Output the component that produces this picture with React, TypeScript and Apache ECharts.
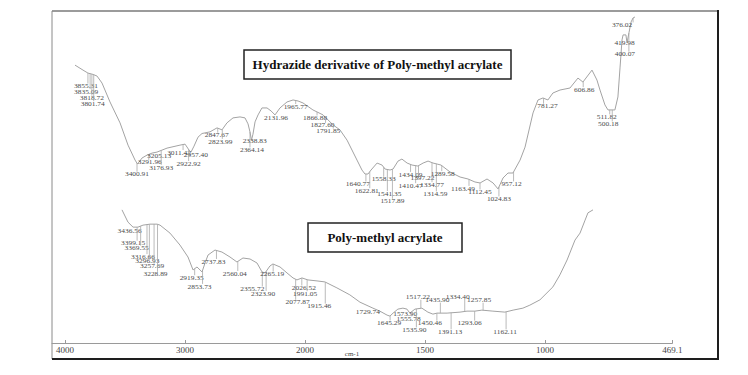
import React, { useEffect, useRef } from "react";
import * as echarts from "echarts";

// ---- Hydrazide derivative of Poly-methyl acrylate (upper trace) ----
const hydrazideWn = [
  3975, 3901, 3855, 3808, 3771, 3725, 3651, 3558, 3484, 3419, 3396,
  3355, 3308, 3262, 3216, 3123, 3003, 2956, 2919, 2901, 2873, 2836, 2799,
  2725, 2660, 2614, 2568, 2512, 2447, 2401, 2373, 2355, 2341, 2327, 2308,
  2280, 2244, 2197, 2160, 2123, 2077, 2012, 1978, 1955, 1932, 1886, 1839,
  1793, 1761, 1728, 1682, 1659, 1645, 1631, 1617, 1589, 1566, 1552, 1529,
  1515, 1492, 1474, 1450, 1427, 1400, 1376, 1353, 1330, 1311, 1293, 1251,
  1205, 1168, 1136, 1112, 1080, 1052, 1029, 1006, 983, 960, 927, 904, 867,
  844, 821, 798, 775, 742, 696, 659, 636, 594, 571, 557, 534, 520, 488,
  474, 464, 455, 450, 437, 432, 423, 413, 404, 395,
];
const hydrazideT = [
  83.7, 82.2, 81.3, 80.9, 80.4, 78.3, 72.6, 66.3, 59.6, 55.1, 53.9,
  55.7, 56.6, 57.2, 57.5, 58.7, 59.6, 59.9, 58.1, 57.5, 59.3, 62.0, 63.1,
  63.6, 64.8, 64.2, 66.3, 67.8, 68.1, 67.8, 66.0, 63.6, 61.1, 62.9, 66.6,
  68.7, 70.8, 70.8, 69.9, 68.7, 70.8, 72.6, 73.2, 72.9, 72.3, 70.2, 68.7,
  65.7, 64.2, 61.1, 55.1, 52.1, 50.9, 50.9, 52.1, 54.2, 53.6, 52.4, 52.1,
  52.4, 54.8, 55.4, 54.2, 53.6, 53.3, 54.2, 54.8, 54.2, 53.9, 53.6, 51.5,
  50.0, 49.4, 48.5, 48.2, 49.4, 48.2, 46.4, 49.7, 51.2, 51.2, 55.1, 59.0, 69.3,
  73.2, 73.8, 73.2, 75.3, 76.2, 76.8, 79.8, 78.6, 82.2, 79.2, 76.2, 71.7, 70.2, 70.2,
  74.1, 83.1, 91.3, 92.8, 92.8, 90.4, 93.4, 96.7, 97.9, 98.2,
];
const hydrazidePeaks = [
  3855.31, 3835.09, 3818.72, 3801.74, 3400.91, 3291.96, 3205.13, 3176.93,
  3011.42, 2957.4, 2922.92, 2847.67, 2823.99, 2364.14, 2338.83, 2131.96,
  1965.77, 1866.88, 1827.6, 1791.85, 1640.77, 1622.81, 1558.33, 1541.35,
  1517.89, 1434.09, 1410.47, 1397.22, 1334.77, 1314.59, 1289.58, 1163.49,
  1112.45, 1024.83, 957.12, 781.27, 606.86, 511.82, 500.18, 419.98, 400.07,
  376.02,
];
// layout of the peak annotations (pixels)
const hydrazideLineDx = [
  0, 0, 0, 0, 0, 0, 0, 0, 4, 7, 0, 21, 23, 1, 0, 2, 0, 0, 0, 0, 0, 0, 0, 0,
  0, 0, 0, 0, 0, 0, 0, 0, 0, 0, 0, -8, -6, 0, 0, -3, -5, -6,
];
const hydrazideLabelDx = [
  -2, -4, 0, -1, 0, 1, 1, 0, -4, 4, 0, -1, -2, 2, 3, 0, 0, -2, -3, -5, -8, -3,
  0, 2, 0, 0, -5, 4, 0, -1, 1, -6, 0, 0, -2, 4, 1, -3, -4, -2, -4, -11,
];
const hydrazideLabelDy = [
  13, 18, 24, 29, 11, 8, 4, 17, 8, 5, 14, 7, 12, 18, 2, 4, 6, 6, 8, 6, 10, 19,
  12, 24, 32, 10, 20, 12, 22, 30, 8, 9, 9, 12, 12, 8, 8, 7, 14, 3, 21, 7,
];

// ---- Poly-methyl acrylate (lower trace) ----
const pmaWn = [
  3525, 3475, 3433, 3392, 3350, 3292, 3233, 3208, 3125, 3042, 2975, 2933,
  2900, 2858, 2833, 2808, 2750, 2692, 2625, 2567, 2517, 2458, 2400, 2358,
  2333, 2292, 2267, 2208, 2150, 2100, 2067, 2025, 1988, 1950, 1917, 1867,
  1813, 1771, 1717, 1688, 1658, 1646, 1633, 1613, 1592, 1575, 1563, 1542,
  1513, 1488, 1467, 1450, 1408, 1354, 1325, 1292, 1263, 1217, 1167, 1133,
  1092, 1063, 1021, 967, 938, 908, 875, 854, 833, 821, 800,
];
const pmaT = [
  40.1, 36.4, 34.9, 34.9, 35.5, 35.8, 35.8, 35.5, 33.1, 29.5, 25.9, 22.0,
  22.9, 21.4, 24.1, 26.5, 28.0, 27.4, 25.9, 24.4, 25.6, 25.3, 24.1, 21.4,
  21.1, 23.2, 23.8, 22.9, 21.1, 19.6, 19.0, 19.6, 19.0, 18.7, 18.4, 16.6,
  14.5, 12.3, 10.5, 9.6, 8.4, 8.1, 9.0, 10.2, 10.5, 10.2, 9.0, 10.2,
  10.5, 9.3, 8.7, 9.0, 9.0, 9.3, 9.6, 9.6, 9.9, 9.6, 9.3, 9.9,
  10.5, 11.4, 13.0, 16.9, 20.5, 25.0, 31.0, 33.1, 37.0, 39.2, 40.1,
];
const pmaPeaks = [
  3436.56, 3399.15, 3369.55, 3316.66, 3296.93, 3257.69, 3228.89, 2919.35,
  2853.73, 2737.83, 2560.04, 2355.72, 2323.9, 2265.19, 2077.87, 2026.52,
  1991.05, 1915.46, 1729.74, 1645.29, 1573.9, 1555.78, 1535.9, 1517.22,
  1450.46, 1435.9, 1391.13, 1334.4, 1293.06, 1257.85, 1162.11,
];
const pmaLineDx = pmaPeaks.map(() => 0);
const pmaLabelDx = [
  -3, -4, -4, -4, -2, -2, -2, -3, -3, -3, -3, -10, -3, -1, 2, 2, -2, -6, -2,
  -1, -2, -3, -2, -3, -7, -3, -1, -7, -5, -4, -1,
];
const pmaLabelDy = [
  4, 16, 22, 32, 37, 42, 50, 9, 16, 11, 12, 17, 22, 10, 23, 10, 14, 24, 5, 7,
  4, 7, 21, -11, 10, -13, 19, -15, 12, -10, 20,
];

// ---- x axis ----
const xTickWn = [4000, 3000, 2000, 1500, 1000, 469.1];
const xTickLabels = ["4000", "3000", "2000", "1500", "1000", "469.1"];

// the instrument's axis changes scale at 2000 cm-1 (double density below)
const axisPos = (wn: number) => (wn >= 2000 ? 4000 - wn : 2000 + (2000 - wn) * 2);

const SERIF = '"Liberation Serif", "Times New Roman", serif';

function makeInterp(wn: number[], t: number[]) {
  const pts = wn.map((w, i) => [axisPos(w), t[i]]).sort((a, b) => a[0] - b[0]);
  return (p: number) => {
    if (p <= pts[0][0]) return pts[0][1];
    for (let i = 1; i < pts.length; i++) {
      if (p <= pts[i][0]) {
        const [p0, v0] = pts[i - 1];
        const [p1, v1] = pts[i];
        return v0 + ((v1 - v0) * (p - p0)) / (p1 - p0);
      }
    }
    return pts[pts.length - 1][1];
  };
}

function peakSeries(
  axisIndex: number,
  wn: number[],
  t: number[],
  peaks: number[],
  lineDx: number[],
  labelDx: number[],
  labelDy: number[]
) {
  const interp = makeInterp(wn, t);
  return {
    type: "custom",
    xAxisIndex: axisIndex,
    yAxisIndex: axisIndex,
    silent: true,
    clip: false,
    z: 5,
    data: peaks.map((w) => [axisPos(w), interp(axisPos(w))]),
    renderItem: (params: any, api: any) => {
      const i = params.dataIndex;
      const ppx = api.size([1, 0])[0] || 1;
      const pL = axisPos(peaks[i]) + lineDx[i] / ppx;
      const pt = api.coord([pL, interp(pL)]);
      const dy = labelDy[i];
      const ly = pt[1] + dy;
      const children: any[] = [];
      if (Math.abs(dy) > 5) {
        const end = dy > 0 ? ly - 2.5 : ly + 2.5;
        children.push({
          type: "line",
          shape: { x1: pt[0], y1: pt[1], x2: pt[0], y2: end },
          style: { stroke: "#a8a8a8", lineWidth: 0.8 },
        });
      }
      children.push({
        type: "text",
        x: pt[0] + labelDx[i],
        y: ly,
        scaleX: 1.35,
        style: {
          text: peaks[i].toFixed(2),
          fill: "#4a4a4a",
          fontSize: 5.5,
          fontFamily: SERIF,
          align: "center",
          verticalAlign: "middle",
        },
      });
      return { type: "group", children };
    },
  };
}

export default function App() {
  const ref = useRef<HTMLDivElement>(null);
  useEffect(() => {
    if (!ref.current) return;
    const chart = echarts.init(ref.current, undefined, { renderer: "svg" });
    const tickPos = xTickWn.map(axisPos);
    const labelFor = (v: number) => {
      let best = 0;
      tickPos.forEach((p, i) => {
        if (Math.abs(p - v) < Math.abs(tickPos[best] - v)) best = i;
      });
      return xTickLabels[best];
    };
    chart.setOption({
      animation: false,
      backgroundColor: "#ffffff",
      grid: [
        { left: 52, right: 75.6, top: 11, bottom: 32 },
        { left: 72.3, right: 108.7, top: 11, bottom: 32 },
      ],
      xAxis: [
        {
          type: "value",
          gridIndex: 0,
          min: -108.3,
          max: 5061.8,
          splitLine: { show: false },
          axisLine: { show: true, lineStyle: { color: "#9a9a9a", width: 1 } },
          axisTick: {
            show: true,
            inside: true,
            length: 3,
            customValues: tickPos,
            lineStyle: { color: "#9a9a9a" },
          },
          axisLabel: {
            customValues: tickPos,
            formatter: (v: number) => labelFor(v),
            color: "#444",
            fontSize: 9,
            fontFamily: SERIF,
            margin: 2,
          },
        },
        { type: "value", gridIndex: 1, min: 0, max: 5250, show: false },
      ],
      yAxis: [
        { type: "value", gridIndex: 0, min: 0, max: 100, show: false },
        { type: "value", gridIndex: 1, min: 0, max: 100, show: false },
      ],
      series: [
        {
          type: "line",
          name: "Poly-methyl acrylate",
          xAxisIndex: 0,
          yAxisIndex: 0,
          data: pmaWn.map((w, i) => [axisPos(w), pmaT[i]]),
          showSymbol: false,
          lineStyle: { color: "#a3a3a3", width: 1 },
          silent: true,
        },
        {
          type: "line",
          name: "Hydrazide derivative of Poly-methyl acrylate",
          xAxisIndex: 1,
          yAxisIndex: 1,
          data: hydrazideWn.map((w, i) => [axisPos(w), hydrazideT[i]]),
          showSymbol: false,
          lineStyle: { color: "#a3a3a3", width: 1 },
          silent: true,
        },
        peakSeries(0, pmaWn, pmaT, pmaPeaks, pmaLineDx, pmaLabelDx, pmaLabelDy),
        peakSeries(1, hydrazideWn, hydrazideT, hydrazidePeaks, hydrazideLineDx, hydrazideLabelDx, hydrazideLabelDy),
      ],
      graphic: [
        { type: "line", shape: { x1: 52, y1: 11, x2: 718, y2: 11 }, style: { stroke: "#7a7a7a", lineWidth: 1.5 } },
        { type: "line", shape: { x1: 52, y1: 11, x2: 52, y2: 359 }, style: { stroke: "#8a8a8a", lineWidth: 1 } },
        { type: "line", shape: { x1: 718, y1: 10, x2: 718, y2: 360 }, style: { stroke: "#1e1e1e", lineWidth: 2 } },
        { type: "line", shape: { x1: 52, y1: 359, x2: 719, y2: 359 }, style: { stroke: "#1e1e1e", lineWidth: 2 } },
        {
          type: "rect",
          shape: { x: 244, y: 50, width: 267, height: 29 },
          style: { fill: "#ffffff", stroke: "#222", lineWidth: 1.5 },
          z: 10,
        },
        {
          type: "text",
          x: 377.5,
          y: 64.5,
          z: 11,
          style: {
            text: "Hydrazide derivative of Poly-methyl acrylate",
            fill: "#111",
            fontSize: 13,
            fontWeight: "bold",
            fontFamily: SERIF,
            align: "center",
            verticalAlign: "middle",
          },
        },
        {
          type: "rect",
          shape: { x: 308, y: 223, width: 154, height: 29 },
          style: { fill: "#ffffff", stroke: "#222", lineWidth: 1.5 },
          z: 10,
        },
        {
          type: "text",
          x: 385,
          y: 237.5,
          z: 11,
          style: {
            text: "Poly-methyl acrylate",
            fill: "#111",
            fontSize: 13,
            fontWeight: "bold",
            fontFamily: SERIF,
            align: "center",
            verticalAlign: "middle",
          },
        },
        {
          type: "text",
          x: 352,
          y: 354,
          style: {
            text: "cm-1",
            fill: "#444",
            fontSize: 7,
            fontFamily: SERIF,
            align: "center",
            verticalAlign: "middle",
          },
        },
      ],
    });
    return () => chart.dispose();
  }, []);
  return (
    <div
      ref={ref}
      style={{ position: "fixed", left: 0, top: 0, width: 748, height: 375, background: "#fff" }}
    />
  );
}
